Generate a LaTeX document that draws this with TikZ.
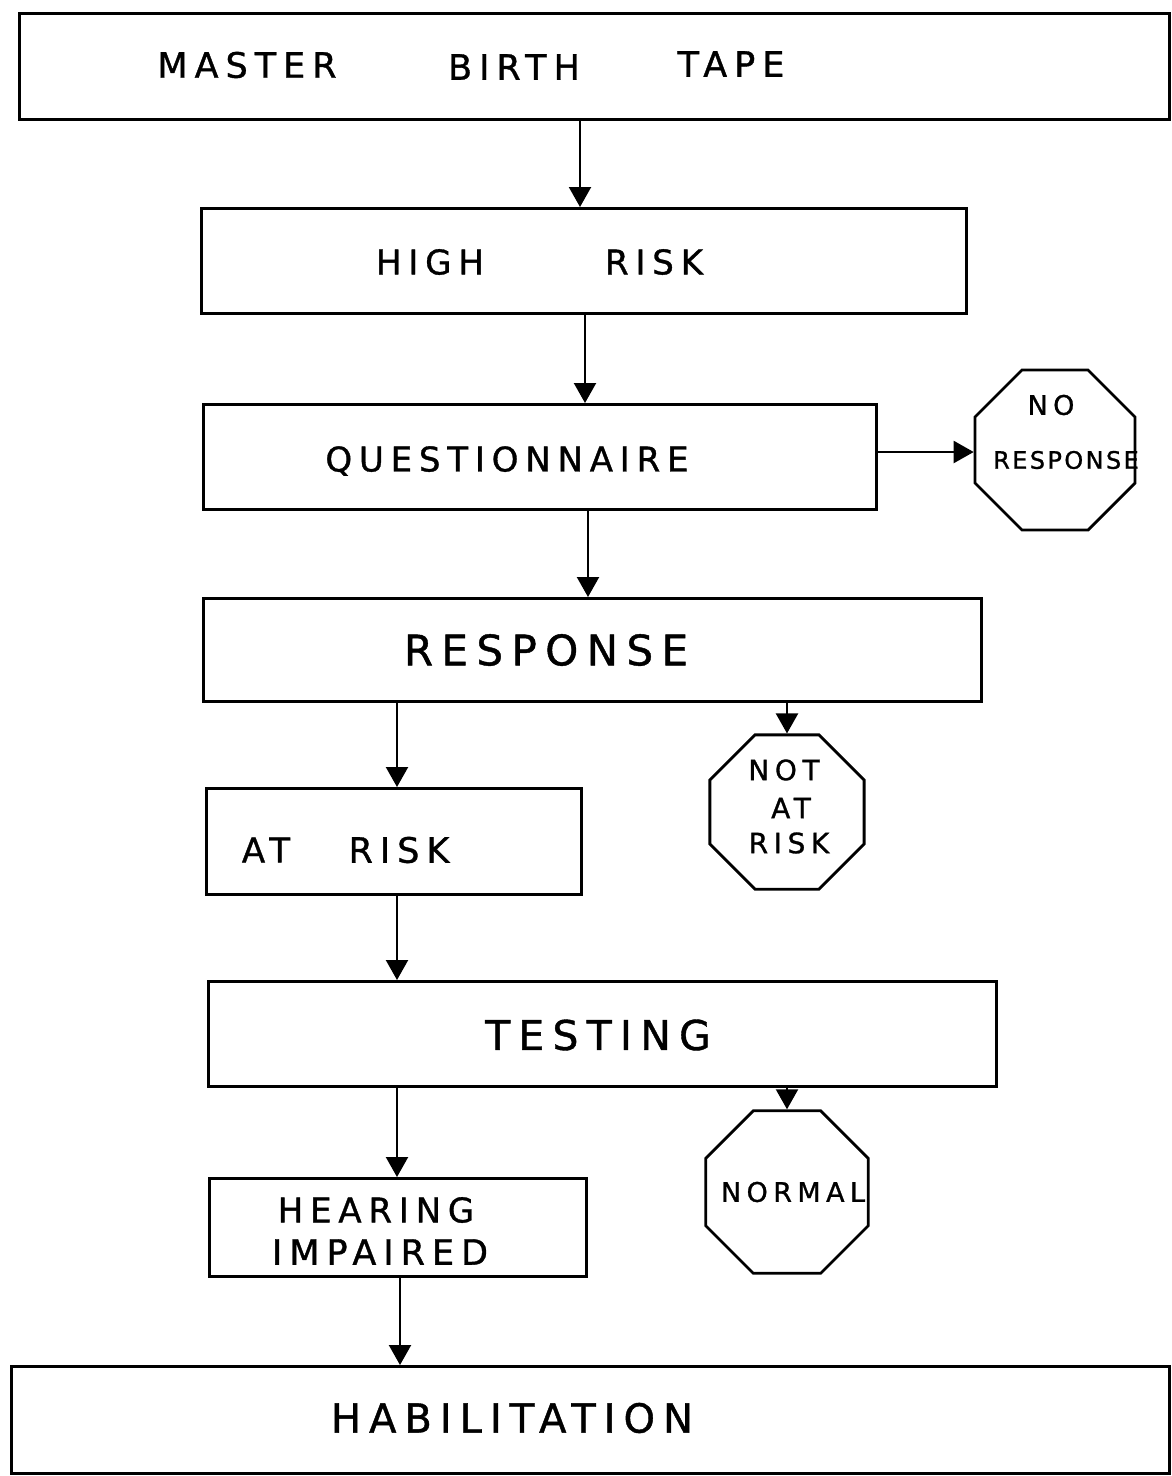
\documentclass[tikz,border=0pt]{standalone}
\usepackage{fontspec}
\setmainfont{DejaVu Sans}
\newfontfamily\handfont[LetterSpace=20,FakeBold=1]{DejaVu Sans}
\newfontfamily\handtight[LetterSpace=10,FakeBold=1]{DejaVu Sans}
\usetikzlibrary{shapes.geometric,arrows.meta}

\newcommand{\fs}[1]{\handfont\fontsize{#1}{#1}\selectfont}
\newcommand{\ft}[1]{\handtight\fontsize{#1}{#1}\selectfont}

\begin{document}
\begin{tikzpicture}[x=1pt,y=-1pt,
  box/.style={draw,line width=2.8pt,rectangle,inner sep=0pt,anchor=north west},
  oct/.style={draw,line width=2.8pt,regular polygon,regular polygon sides=8,inner sep=0pt},
  lbl/.style={inner sep=0pt,align=center},
  arr/.style={line width=2.2pt,-{Triangle[width=22pt,length=20pt]}}]

\useasboundingbox (0,0) rectangle (1172,1476);

% boxes
\node[box,minimum width=1150pt,minimum height=106pt] (master) at (18,12) {};
\node[box,minimum width=765pt,minimum height=105pt] (high) at (200,207) {};
\node[box,minimum width=673pt,minimum height=105pt] (quest) at (202,403) {};
\node[box,minimum width=778pt,minimum height=103pt] (resp) at (202,597) {};
\node[box,minimum width=375pt,minimum height=106pt] (atrisk) at (205,787) {};
\node[box,minimum width=788pt,minimum height=105pt] (test) at (207,980) {};
\node[box,minimum width=377pt,minimum height=98pt] (hear) at (208,1177) {};
\node[box,minimum width=1158pt,minimum height=107pt] (habil) at (10,1365) {};

% octagons
\node[oct,minimum size=173pt] (noresp) at (1055,450) {};
\node[oct,minimum size=167pt] (notrisk) at (787,812) {};
\node[oct,minimum size=176pt] (normal) at (787,1192) {};

% labels
\node[lbl,font=\fs{35}] at (247,65) {MASTER};
\node[lbl,font=\fs{35}] at (514,67) {BIRTH};
\node[lbl,font=\fs{35}] at (731,64) {TAPE};
\node[lbl,font=\fs{34}] at (430,262) {HIGH};
\node[lbl,font=\fs{34}] at (654,262) {RISK};
\node[lbl,font=\fs{34}] at (507,461) {QUESTIONNAIRE};
\node[lbl,font=\fs{42}] at (546,650) {RESPONSE};
\node[lbl,font=\fs{34}] at (266,850) {AT};
\node[lbl,font=\fs{35}] at (399,850) {RISK};
\node[lbl,font=\fs{41}] at (598,1035) {TESTING};
\node[lbl,font=\fs{34}] at (376,1210) {HEARING};
\node[lbl,font=\fs{35}] at (380,1252) {IMPAIRED};
\node[lbl,font=\fs{40}] at (512,1418) {HABILITATION};
\node[lbl,font=\fs{27}] at (1051,405) {NO};
\node[lbl,font=\ft{24}] at (1066,460) {RESPONSE};
\node[lbl,font=\fs{28}] at (784,770) {NOT};
\node[lbl,font=\fs{28}] at (791,808) {AT};
\node[lbl,font=\fs{28}] at (789,843) {RISK};
\node[lbl,font=\fs{27}] at (793,1192) {NORMAL};

% connectors
\draw[arr] (master.south -| 580,0) -- (high.north -| 580,0);
\draw[arr] (high.south -| 585,0) -- (quest.north -| 585,0);
\draw[arr] (quest.east |- 0,452) -- (noresp.west |- 0,452);
\draw[arr] (quest.south -| 588,0) -- (resp.north -| 588,0);
\draw[arr] (resp.south -| 397,0) -- (atrisk.north -| 397,0);
\draw[arr] (resp.south -| notrisk.north) -- (notrisk.north);
\draw[arr] (atrisk.south -| 397,0) -- (test.north -| 397,0);
\draw[arr] (test.south -| 397,0) -- (hear.north -| 397,0);
\draw[arr] (test.south -| normal.north) -- (normal.north);
\draw[arr] (hear.south -| 400,0) -- (habil.north -| 400,0);
\end{tikzpicture}
\end{document}
